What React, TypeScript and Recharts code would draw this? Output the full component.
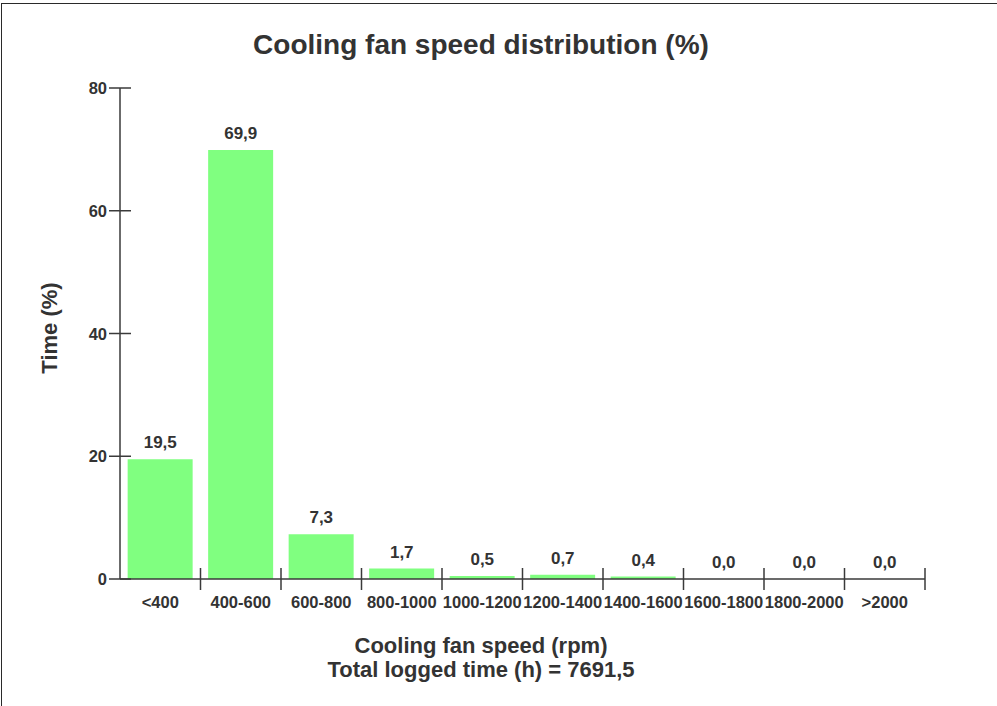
import { ComposedChart, Bar, Line, XAxis, YAxis, LabelList } from 'recharts';

const categories = ['<400', '400-600', '600-800', '800-1000', '1000-1200', '1200-1400', '1400-1600', '1600-1800', '1800-2000', '>2000'];
const timeShare = [19.5, 69.9, 7.3, 1.7, 0.5, 0.7, 0.4, 0.0, 0.0, 0.0];
const yTicks = [0, 20, 40, 60, 80];
const totalHours = '7691,5';

const data = categories.map((c, i) => ({ speed: c, time: timeShare[i] }));

const TEXT = '#333333';
const AXIS = '#3a3a3a';
const FONT = '"Liberation Sans", Arial, Helvetica, sans-serif';

const fmt = (v: number) => v.toFixed(1).replace('.', ',');

// eslint-disable-next-line @typescript-eslint/no-explicit-any
function XTick(props: any) {
  const { x, y, payload } = props;
  const half = payload?.offset ?? 40.25;
  return (
    <g>
      <text x={x} y={y + 29} textAnchor="middle" fill={TEXT} fontSize={16.5} fontWeight="bold" fontFamily={FONT}>
        {payload.value}
      </text>
      <line x1={x + half} x2={x + half} y1={y - 11} y2={y + 11} stroke={AXIS} strokeWidth={1.5} />
    </g>
  );
}

// eslint-disable-next-line @typescript-eslint/no-explicit-any
function YTick(props: any) {
  const { x, y, payload } = props;
  return (
    <g>
      <line x1={x - 11} x2={x + 11} y1={y} y2={y} stroke={AXIS} strokeWidth={1.5} />
      <text x={x - 13} y={y + 6} textAnchor="end" fill={TEXT} fontSize={16.5} fontWeight="bold" fontFamily={FONT}>
        {payload.value}
      </text>
    </g>
  );
}

export default function App() {
  return (
    <div style={{ position: 'absolute', left: 0, top: 0, width: 997, height: 706, background: '#fff' }}>
      <div
        style={{
          position: 'absolute',
          left: 1,
          top: 3,
          width: 996,
          height: 703,
          borderTop: '1.5px solid #2a2a2a',
          borderLeft: '1.5px solid #2a2a2a',
          boxSizing: 'border-box',
        }}
      />
      <ComposedChart
        width={997}
        height={706}
        data={data}
        margin={{ top: 88, right: 72, bottom: 97, left: 60 }}
        barCategoryGap="9.5%"
        style={{ position: 'absolute', left: 0, top: 0 }}
      >
        <text x={481} y={54} textAnchor="middle" fill={TEXT} fontSize={28} fontWeight="bold" fontFamily={FONT}>
          Cooling fan speed distribution (%)
        </text>
        <text x={481} y={653} textAnchor="middle" fill={TEXT} fontSize={22} fontWeight="bold" fontFamily={FONT}>
          Cooling fan speed (rpm)
        </text>
        <text x={481} y={677} textAnchor="middle" fill={TEXT} fontSize={22} fontWeight="bold" fontFamily={FONT}>
          {`Total logged time (h) = ${totalHours}`}
        </text>
        <text
          x={57}
          y={328}
          textAnchor="middle"
          transform="rotate(-90 57 328)"
          fill={TEXT}
          fontSize={22}
          fontWeight="bold"
          fontFamily={FONT}
        >
          Time (%)
        </text>
        <XAxis
          dataKey="speed"
          height={30}
          interval={0}
          tickLine={false}
          tickSize={0}
          tickMargin={0}
          axisLine={{ stroke: AXIS, strokeWidth: 1.5 }}
          tick={<XTick />}
        />
        <YAxis
          width={60}
          domain={[0, 80]}
          ticks={yTicks}
          interval={0}
          tickLine={false}
          tickSize={0}
          tickMargin={0}
          axisLine={{ stroke: AXIS, strokeWidth: 1.5 }}
          tick={<YTick />}
        />
        <Bar dataKey="time" fill="#80ff80" isAnimationActive={false} />
        <Line
          dataKey="time"
          stroke="none"
          dot={false}
          activeDot={false}
          legendType="none"
          isAnimationActive={false}
        >
          <LabelList
            dataKey="time"
            position="top"
            offset={11}
            formatter={(v: number) => fmt(Number(v))}
            fill={TEXT}
            fontSize={17}
            fontWeight="bold"
            fontFamily={FONT}
          />
        </Line>
      </ComposedChart>
    </div>
  );
}
